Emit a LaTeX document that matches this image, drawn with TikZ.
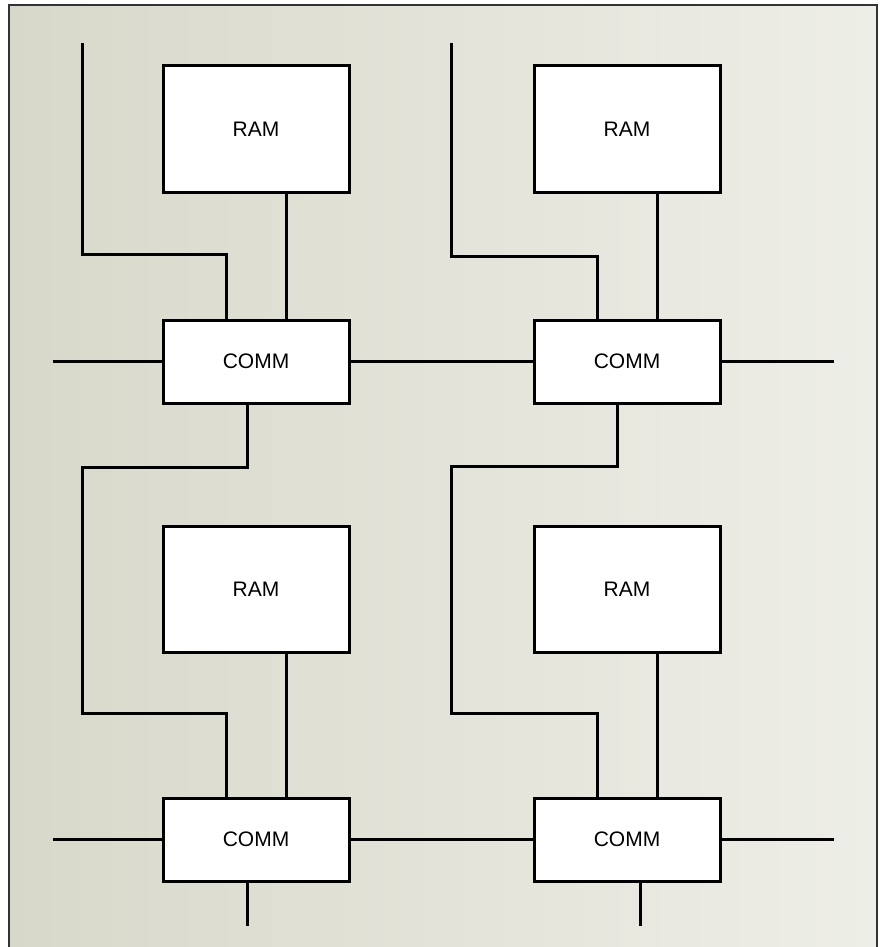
\documentclass[tikz,border=0pt]{standalone}
\usepackage{fontspec}
\setmainfont{Liberation Sans}
\usepackage{xcolor}
\usepackage{tikz}
\usetikzlibrary{positioning}
\definecolor{paperleft}{RGB}{216,216,202}
\definecolor{paperright}{RGB}{238,238,232}

\begin{document}
\begin{tikzpicture}[
  x=0.5pt, y=-0.5pt,
  node distance=62.5pt,
  ram/.style={rectangle, draw=black, fill=white, line width=1.5pt,
    minimum width=93pt, minimum height=63pt, font=\fontsize{10.5}{12}\selectfont},
  comm/.style={ram, minimum height=41.5pt},
  wire/.style={line width=1.5pt},
]
  \useasboundingbox (0,0) rectangle (885,947);
  \shade[left color=paperleft, right color=paperright] (9,5) rectangle (877,947);
  \draw[line width=0.7pt, black!80] (9,947) -- (9,5) -- (877,5) -- (877,947);

  \node[ram] (ram1) at (256,129) {RAM};
  \node[ram] (ram2) at (627,129) {RAM};
  \node[comm, below=of ram1] (comm1) {COMM};
  \node[comm, below=of ram2] (comm2) {COMM};
  \node[ram] (ram3) at (256,589) {RAM};
  \node[ram] (ram4) at (627,589) {RAM};
  \node[comm, below=71.5pt of ram3] (comm3) {COMM};
  \node[comm, below=71.5pt of ram4] (comm4) {COMM};

  \coordinate (top1) at (82,43);
  \coordinate (top2) at (451,43);
  \coordinate (bus1) at (82,713);
  \coordinate (bus2) at (451,713);
  \coordinate[left=54.5pt of comm1.west] (w1);
  \coordinate[left=54.5pt of comm3.west] (w3);
  \coordinate[right=56pt of comm2.east] (e2);
  \coordinate[right=56pt of comm4.east] (e4);
  \coordinate[below=21.5pt of comm3.south, xshift=-4.5pt] (s3);
  \coordinate[below=21.5pt of comm4.south, xshift=6.5pt] (s4);

  % ram to comm
  \draw[wire] ([xshift=15pt]ram1.south) -- ([xshift=15pt]comm1.north);
  \draw[wire] ([xshift=15pt]ram2.south) -- ([xshift=15pt]comm2.north);
  \draw[wire] ([xshift=15pt]ram3.south) -- ([xshift=15pt]comm3.north);
  \draw[wire] ([xshift=15pt]ram4.south) -- ([xshift=15pt]comm4.north);

  % vertical links
  \draw[wire] (top1) |- ([xshift=-15pt,yshift=32pt]comm1.north) -- ([xshift=-15pt]comm1.north);
  \draw[wire] (top2) |- ([xshift=-15pt,yshift=31pt]comm2.north) -- ([xshift=-15pt]comm2.north);
  \draw[wire] ([xshift=-4.5pt]comm1.south) -- ++(0,-31.5pt) -| (bus1) -| ([xshift=-15pt]comm3.north);
  \draw[wire] ([xshift=-5pt]comm2.south) -- ++(0,-31pt) -| (bus2) -| ([xshift=-15pt]comm4.north);
  \draw[wire] ([xshift=-4.5pt]comm3.south) -- (s3);
  \draw[wire] ([xshift=6.5pt]comm4.south) -- (s4);

  % horizontal links
  \draw[wire] (w1) -- (comm1.west);
  \draw[wire] (comm1) -- (comm2);
  \draw[wire] (comm2.east) -- (e2);
  \draw[wire] (w3) -- (comm3.west);
  \draw[wire] (comm3) -- (comm4);
  \draw[wire] (comm4.east) -- (e4);
\end{tikzpicture}
\end{document}
